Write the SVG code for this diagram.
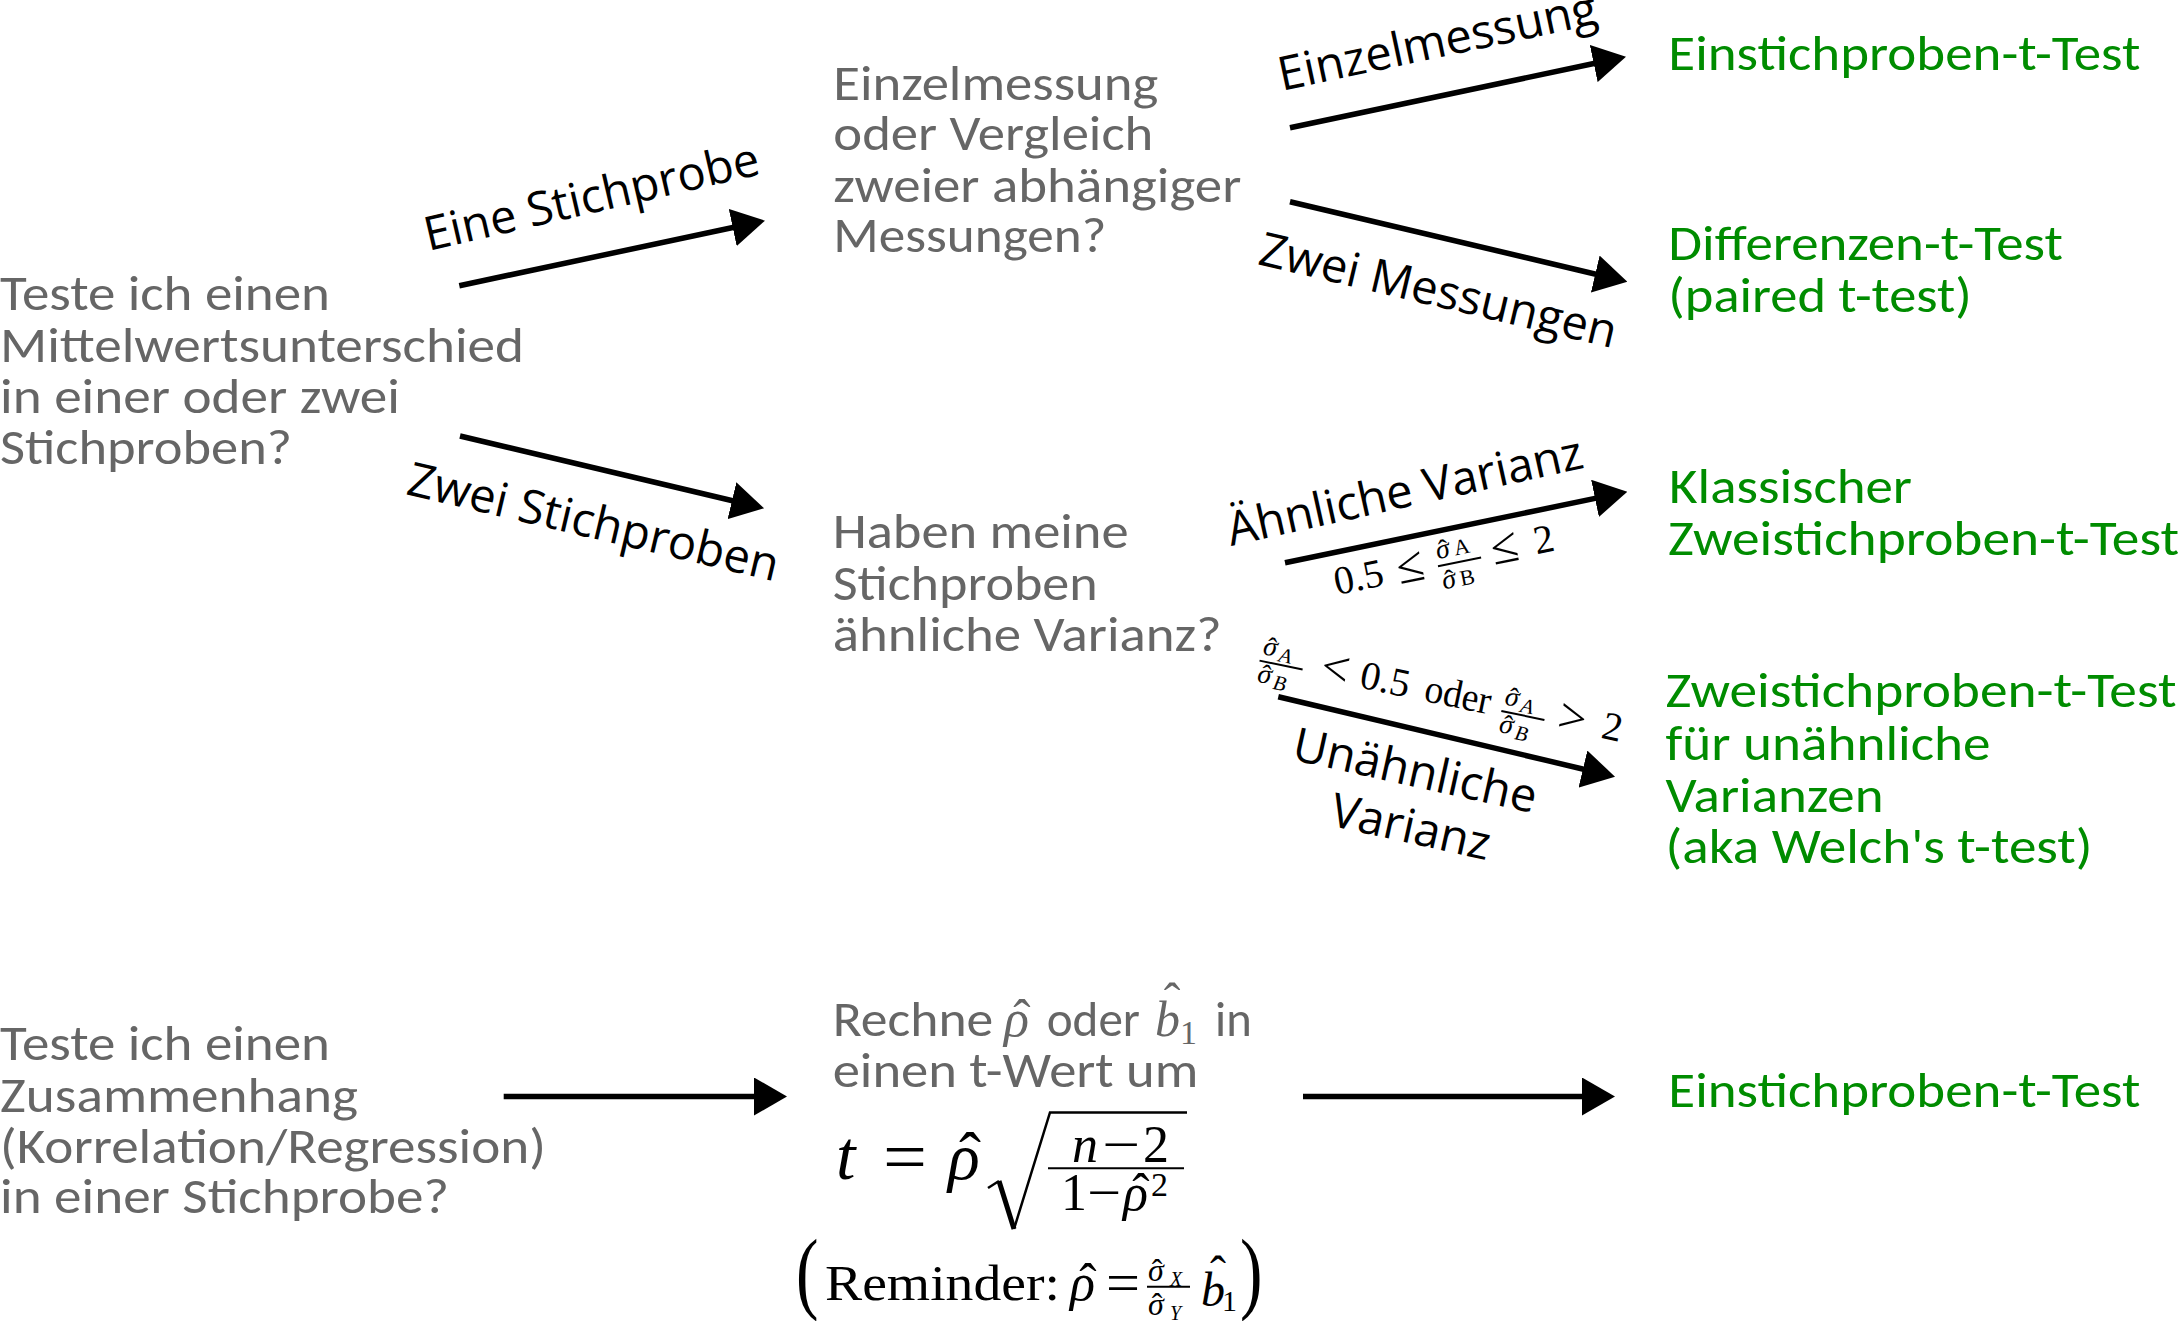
<svg xmlns="http://www.w3.org/2000/svg" width="2180" height="1321" viewBox="0 0 2180 1321">
<defs>
<marker id="ah" markerUnits="userSpaceOnUse" markerWidth="33" markerHeight="38" viewBox="0 0 33 38" refX="5" refY="19" orient="auto"><path d="M0,0 L33,19 L0,38 z" fill="#000"/></marker>
<style>
.q{font-family:Carlito,Lato,'Open Sans',sans-serif;font-size:49px;fill:#666666;}
.r{font-family:Carlito,Lato,'Open Sans',sans-serif;font-size:49px;fill:#008c00;}
.l{font-family:'Open Sans','Noto Sans',sans-serif;font-size:47px;fill:#000;}
.m{font-family:'Liberation Serif','DejaVu Serif',serif;fill:#000;}
.mg{font-family:'Liberation Serif','DejaVu Serif',serif;fill:#666666;}
.i{font-style:italic;}
.c{stroke:#000;stroke-width:5.5;fill:none;marker-end:url(#ah);}
.bar{stroke:#000;stroke-width:2;}
</style>
</defs>
<rect width="2180" height="1321" fill="#fff"/>

<g id="connectors">
<line class="c" x1="459.3" y1="285.7" x2="737.6" y2="226.5"/>
<line class="c" x1="460" y1="436" x2="736.8" y2="501.8"/>
<line class="c" x1="1290" y1="127.7" x2="1598.6" y2="62.5"/>
<line class="c" x1="1290" y1="201.7" x2="1600.1" y2="275.2"/>
<line class="c" x1="1285" y1="562.7" x2="1599.9" y2="497.4"/>
<line class="c" x1="1278.3" y1="696.7" x2="1587.8" y2="770.2"/>
<line class="c" x1="503.7" y1="1096.5" x2="759" y2="1096.5"/>
<line class="c" x1="1303" y1="1096.5" x2="1587" y2="1096.5"/>
</g>

<g id="edge-labels">
<text class="l" transform="translate(428.3,251) rotate(-13)">Eine Stichprobe</text>
<text class="l" transform="translate(405,494) rotate(13.3)">Zwei Stichproben</text>
<text class="l" transform="translate(1281.7,91) rotate(-12)">Einzelmessung</text>
<text class="l" transform="translate(1256.7,264) rotate(13.3)">Zwei Messungen</text>
<text class="l" transform="translate(1231,546) rotate(-12.5)">Ähnliche Varianz</text>
<g transform="translate(1411.7,786.3) rotate(12.5)">
<text class="l" text-anchor="middle" x="0" y="0">Unähnliche</text>
<text class="l" text-anchor="middle" x="8" y="56">Varianz</text>
</g>
<g id="cond-similar" transform="translate(1336.7,595) rotate(-11.5)">
<text class="m" font-size="40" x="0" y="0">0.5</text>
<text class="m" font-size="50" x="64" y="2">≤</text>
<text class="m i" font-size="28" x="106" y="-15">σ</text>
<text class="m" font-size="28" x="114" y="-14" text-anchor="middle">ˆ</text>
<text class="m" font-size="22" x="124" y="-15">A</text>
<line class="bar" x1="105" y1="-8" x2="149" y2="-8" stroke-width="1.6"/>
<text class="m i" font-size="28" x="106" y="16">σ</text>
<text class="m" font-size="28" x="114" y="17" text-anchor="middle">ˆ</text>
<text class="m" font-size="22" x="124" y="16">B</text>
<text class="m" font-size="50" x="160" y="2">≤</text>
<text class="m" font-size="40" x="204" y="0">2</text>
</g>
<g id="cond-dissimilar" transform="translate(1258.3,666.5) rotate(11.76)">
<text class="m i" font-size="28" x="1" y="-13">σ</text>
<text class="m" font-size="28" x="9" y="-12" text-anchor="middle">ˆ</text>
<text class="m i" font-size="21" x="18" y="-9">A</text>
<line class="bar" x1="0" y1="-6" x2="44" y2="-6" stroke-width="1.6"/>
<text class="m i" font-size="28" x="1" y="15">σ</text>
<text class="m" font-size="28" x="9" y="16" text-anchor="middle">ˆ</text>
<text class="m i" font-size="21" x="18" y="19">B</text>
<text class="m" font-size="50" x="62" y="2">&lt;</text>
<text class="m" font-size="40" x="102" y="0">0.5</text>
<text class="m" font-size="40" x="168" y="0" textLength="67" lengthAdjust="spacingAndGlyphs">oder</text>
<text class="m i" font-size="28" x="248" y="-13">σ</text>
<text class="m" font-size="28" x="256" y="-12" text-anchor="middle">ˆ</text>
<text class="m i" font-size="21" x="265" y="-9">A</text>
<line class="bar" x1="247" y1="-6" x2="291" y2="-6" stroke-width="1.6"/>
<text class="m i" font-size="28" x="248" y="15">σ</text>
<text class="m" font-size="28" x="256" y="16" text-anchor="middle">ˆ</text>
<text class="m i" font-size="21" x="265" y="19">B</text>
<text class="m" font-size="50" x="304" y="2">&gt;</text>
<text class="m" font-size="40" x="349" y="0">2</text>
</g>
</g>

<g id="q-mean">
<text class="q" x="0" y="310" textLength="330" lengthAdjust="spacingAndGlyphs">Teste ich einen</text>
<text class="q" x="0" y="361.7" textLength="524" lengthAdjust="spacingAndGlyphs">Mittelwertsunterschied</text>
<text class="q" x="0" y="413" textLength="400" lengthAdjust="spacingAndGlyphs">in einer oder zwei</text>
<text class="q" x="0" y="464" textLength="292" lengthAdjust="spacingAndGlyphs">Stichproben?</text>
</g>

<g id="q-single">
<text class="q" x="833.3" y="100" textLength="325" lengthAdjust="spacingAndGlyphs">Einzelmessung</text>
<text class="q" x="833.3" y="150" textLength="320" lengthAdjust="spacingAndGlyphs">oder Vergleich</text>
<text class="q" x="833.3" y="201.7" textLength="408" lengthAdjust="spacingAndGlyphs">zweier abhängiger</text>
<text class="q" x="833.3" y="251.7" textLength="273" lengthAdjust="spacingAndGlyphs">Messungen?</text>
</g>

<g id="q-variance">
<text class="q" x="832.7" y="548.3" textLength="296" lengthAdjust="spacingAndGlyphs">Haben meine</text>
<text class="q" x="832.7" y="600" textLength="265" lengthAdjust="spacingAndGlyphs">Stichproben</text>
<text class="q" x="832.7" y="650.7" textLength="389" lengthAdjust="spacingAndGlyphs">ähnliche Varianz?</text>
</g>

<g id="r-one-sample">
<text class="r" x="1668.3" y="70" textLength="472" lengthAdjust="spacingAndGlyphs">Einstichproben-t-Test</text>
</g>

<g id="r-paired">
<text class="r" x="1668.3" y="260" textLength="394.5" lengthAdjust="spacingAndGlyphs">Differenzen-t-Test</text>
<text class="r" x="1668.3" y="311.7" textLength="303.5" lengthAdjust="spacingAndGlyphs">(paired t-test)</text>
</g>

<g id="r-classic">
<text class="r" x="1669" y="503.3" textLength="243" lengthAdjust="spacingAndGlyphs">Klassischer</text>
<text class="r" x="1668" y="555" textLength="511" lengthAdjust="spacingAndGlyphs">Zweistichproben-t-Test</text>
</g>

<g id="r-welch">
<text class="r" x="1665.5" y="706.7" textLength="511" lengthAdjust="spacingAndGlyphs">Zweistichproben-t-Test</text>
<text class="r" x="1665.5" y="760" textLength="325" lengthAdjust="spacingAndGlyphs">für unähnliche</text>
<text class="r" x="1665.5" y="811.7" textLength="218" lengthAdjust="spacingAndGlyphs">Varianzen</text>
<text class="r" x="1665.5" y="863.3" textLength="427" lengthAdjust="spacingAndGlyphs">(aka Welch's t-test)</text>
</g>

<g id="q-correlation">
<text class="q" x="0" y="1060" textLength="330" lengthAdjust="spacingAndGlyphs">Teste ich einen</text>
<text class="q" x="0" y="1111.7" textLength="358" lengthAdjust="spacingAndGlyphs">Zusammenhang</text>
<text class="q" x="0" y="1163.3" textLength="546" lengthAdjust="spacingAndGlyphs">(Korrelation/Regression)</text>
<text class="q" x="0" y="1213.3" textLength="449" lengthAdjust="spacingAndGlyphs">in einer Stichprobe?</text>
</g>

<g id="n-convert">
<text class="q" x="832.7" y="1036" textLength="160.6" lengthAdjust="spacingAndGlyphs">Rechne</text>
<text class="mg i" font-size="52" x="1004" y="1036">ρ</text>
<text class="mg" font-size="52" x="1022" y="1036" text-anchor="middle">ˆ</text>
<text class="q" x="1046.7" y="1036" textLength="93.3" lengthAdjust="spacingAndGlyphs">oder</text>
<text class="mg i" font-size="50" x="1155" y="1036">b</text>
<text class="mg" font-size="50" x="1172" y="1018" text-anchor="middle">ˆ</text>
<text class="mg" font-size="34" x="1180" y="1044">1</text>
<text class="q" x="1215" y="1036" textLength="36.7" lengthAdjust="spacingAndGlyphs">in</text>
<text class="q" x="832.7" y="1087.3" textLength="365.6" lengthAdjust="spacingAndGlyphs">einen t-Wert um</text>

<text class="m i" font-size="70" x="836" y="1179">t</text>
<text class="m" font-size="72" x="883" y="1181" textLength="44" lengthAdjust="spacingAndGlyphs">=</text>
<text class="m i" font-size="66" x="948" y="1179">ρ</text>
<text class="m" font-size="66" x="970" y="1178" text-anchor="middle">ˆ</text>
<path d="M988,1188 L999,1181" stroke="#000" stroke-width="2.5" fill="none"/>
<path d="M999,1181 L1014,1229" stroke="#000" stroke-width="5" fill="none"/>
<path d="M1014,1229 L1050,1112.5 L1187,1112.5" stroke="#000" stroke-width="2.5" fill="none"/>
<text class="m i" font-size="52" x="1072" y="1161.7">n</text>
<text class="m" font-size="52" x="1102" y="1161.7" textLength="38" lengthAdjust="spacingAndGlyphs">−</text>
<text class="m" font-size="52" x="1143" y="1161.7">2</text>
<line class="bar" x1="1048" y1="1168.3" x2="1184" y2="1168.3" stroke-width="2.5"/>
<text class="m" font-size="52" x="1061" y="1210">1</text>
<text class="m" font-size="52" x="1087" y="1210" textLength="34" lengthAdjust="spacingAndGlyphs">−</text>
<text class="m i" font-size="52" x="1123" y="1210">ρ</text>
<text class="m" font-size="52" x="1141" y="1210" text-anchor="middle">ˆ</text>
<text class="m" font-size="34" x="1151" y="1196">2</text>

<text class="m" font-size="90" x="796" y="1302" transform="translate(796,0) scale(0.75,1) translate(-796,0)">(</text>
<text class="m" font-size="50" x="825" y="1300" textLength="235" lengthAdjust="spacingAndGlyphs">Reminder:</text>
<text class="m i" font-size="52" x="1070" y="1300">ρ</text>
<text class="m" font-size="52" x="1088" y="1300" text-anchor="middle">ˆ</text>
<text class="m" font-size="56" x="1106" y="1302" textLength="34" lengthAdjust="spacingAndGlyphs">=</text>
<text class="m i" font-size="32" x="1148" y="1281">σ</text>
<text class="m" font-size="32" x="1157" y="1281" text-anchor="middle">ˆ</text>
<text class="m i" font-size="20" x="1170" y="1286">X</text>
<line class="bar" x1="1147" y1="1286.7" x2="1190" y2="1286.7" stroke-width="2"/>
<text class="m i" font-size="32" x="1148" y="1315">σ</text>
<text class="m" font-size="32" x="1157" y="1315" text-anchor="middle">ˆ</text>
<text class="m i" font-size="20" x="1170" y="1320">Y</text>
<text class="m i" font-size="48" x="1201" y="1306">b</text>
<text class="m" font-size="48" x="1218" y="1290" text-anchor="middle">ˆ</text>
<text class="m" font-size="30" x="1222" y="1311">1</text>
<text class="m" font-size="90" x="1240" y="1302" transform="translate(1240,0) scale(0.75,1) translate(-1240,0)">)</text>
</g>

<g id="r-one-sample-2">
<text class="r" x="1668.3" y="1106.7" textLength="472" lengthAdjust="spacingAndGlyphs">Einstichproben-t-Test</text>
</g>
</svg>
